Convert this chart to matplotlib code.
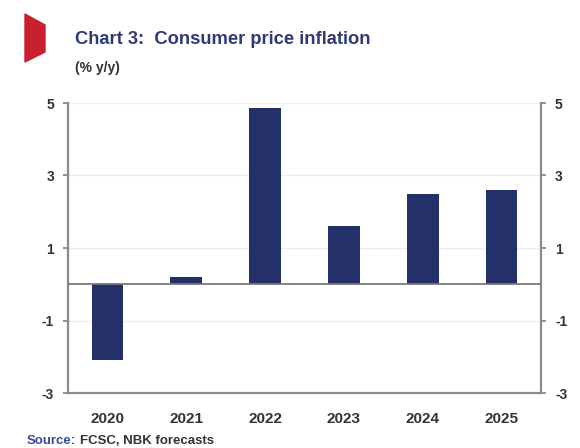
import matplotlib
matplotlib.use("Agg")
import matplotlib.pyplot as plt
from matplotlib.patches import Polygon

years = ["2020", "2021", "2022", "2023", "2024", "2025"]
inflation = [-2.1, 0.2, 4.85, 1.6, 2.5, 2.6]
yticks = [-3, -1, 1, 3, 5]

plt.rcParams['font.family'] = ['Liberation Sans', 'DejaVu Sans']

W, H = 580, 448
fig = plt.figure(figsize=(W/100, H/100), dpi=100)
fig.patch.set_facecolor('white')

def fx(x): return x / W
def fy(y): return 1 - y / H

ax = fig.add_axes([fx(68), fy(393), fx(541) - fx(68), fy(103) - fy(393)])

navy = '#243169'
spine_c = '#8a8a8a'
x = list(range(len(years)))
ax.bar(x, inflation, width=0.4, color=navy, zorder=3)
ax.set_xlim(-0.5, len(years) - 0.5)
ax.set_ylim(-3, 5)
ax.set_xticks(x)
ax.set_xticklabels(years)
ax.set_yticks(yticks)
ax.set_yticklabels([str(v) for v in yticks])

for v in yticks:
    if v != -3:
        ax.axhline(v, color='#eeeeee', lw=1.0, zorder=1)
ax.axhline(0, color='#7a7a7a', lw=1.3, zorder=4)

ax.spines['top'].set_visible(False)
for s in ['left', 'right', 'bottom']:
    ax.spines[s].set_color(spine_c)
    ax.spines[s].set_linewidth(1.6)

ax.tick_params(axis='y', which='both', left=True, right=True, labelleft=True,
               labelright=True, direction='out', length=3.6, width=1.3,
               color=spine_c, pad=6.5, labelsize=10, labelcolor='#333333')
ax.tick_params(axis='x', bottom=False, pad=10, labelsize=11, labelcolor='#333333')
for lab in ax.get_xticklabels():
    lab.set_fontweight('bold')
for t in ax.yaxis.get_major_ticks():
    t.label1.set_fontweight('bold')
    t.label2.set_fontweight('bold')

# Red marker shape
poly = Polygon([[fx(25), fy(14)], [fx(45), fy(25)], [fx(45), fy(52)], [fx(25), fy(62)]],
               closed=True, transform=fig.transFigure, color='#c8202f')
fig.patches.append(poly)

fig.text(fx(75), fy(40), "Chart 3:  Consumer price inflation", fontsize=13.2,
         fontweight='bold', color='#2e3a78', va='center', ha='left')
fig.text(fx(75), fy(68), "(% y/y)", fontsize=10, fontweight='bold',
         color='#333333', va='center', ha='left')
fig.text(fx(27), fy(447), "Source:", fontsize=9.5, fontweight='bold',
         color='#3a4a9a', va='bottom', ha='left')
fig.text(fx(80), fy(447), "FCSC, NBK forecasts", fontsize=9.5, fontweight='bold',
         color='#333333', va='bottom', ha='left')

fig.savefig("out.png", dpi=100, facecolor='white')
